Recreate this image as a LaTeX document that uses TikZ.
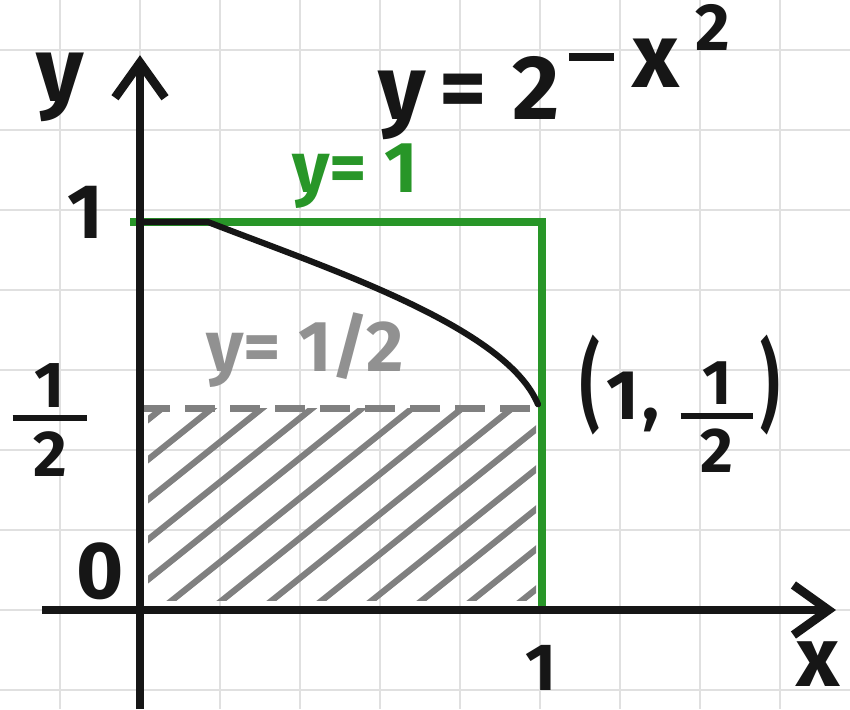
\documentclass[tikz,border=0pt]{standalone}
\usepackage{fontspec}
\usepackage{graphicx}
\setmainfont{Fira Sans}
\usetikzlibrary{arrows.meta,positioning}
\definecolor{gridGray}{RGB}{224,224,224}
\definecolor{inkBlack}{RGB}{22,22,22}
\definecolor{boxGreen}{RGB}{40,150,40}
\definecolor{hatchGray}{RGB}{128,128,128}
\definecolor{labelGray}{RGB}{145,145,145}
\newcommand{\hfrac}[2]{$\vcenter{\offinterlineskip\halign{\hfil##\hfil\cr #1\cr\noalign{\kern0.12em}\vrule width 1.15em height 0.1em\cr\noalign{\kern0.16em}#2\cr}}$}
\newcommand{\tallparen}[1]{\scalebox{0.85}[1.4]{#1}}
\newcommand{\handminus}{\rule[0.28em]{0.5em}{0.09em}}
\tikzset{
  gridline/.style={draw=gridGray, line width=1.2pt},
  axisline/.style={draw=inkBlack, line width=5pt, -{Straight Barb[length=0.7cm, width=1.0cm]}},
  greenline/.style={draw=boxGreen, line width=4.5pt},
  curveline/.style={draw=inkBlack, line width=3.5pt},
  hatchline/.style={draw=hatchGray, line width=3.5pt, line cap=round},
  halfline/.style={draw=hatchGray, line width=4pt, dash pattern=on 0.6cm off 0.3cm},
  lbl/.style={inner sep=0pt, text=inkBlack, font=\fontsize{44}{48}\selectfont\bfseries},
  greenlbl/.style={lbl, text=boxGreen, font=\fontsize{41}{44}\selectfont\bfseries},
  graylbl/.style={lbl, text=labelGray, font=\fontsize{41}{44}\selectfont\bfseries}
}
\begin{document}
\begin{tikzpicture}[x=8cm, y=7.76cm]
  \useasboundingbox (-0.35,-0.2552) rectangle (1.775,1.5722);
  \fill[white] (-0.35,-0.2552) rectangle (1.775,1.5722);
  \draw[gridline] (-0.35,-0.2552) grid[xstep=0.2, ystep=0.20619] (1.775,1.5722);

  \coordinate (O) at (0,0);
  \coordinate (xbeg) at (-0.245,0);
  \coordinate (xend) at (1.74,0);
  \coordinate (ybeg) at (0,-0.2552);
  \coordinate (yend) at (0,1.43);
  \coordinate (topleft) at (-0.025,1);
  \coordinate (topright) at (1.005,1);
  \coordinate (botright) at (1.005,0);
  \coordinate (halfleft) at (0,0.52);
  \coordinate (halfright) at (1,0.52);
  \coordinate (bend) at (0.17,1);
  \coordinate (meet) at (0.995,0.53);

  % shaded part under y=1/2
  \begin{scope}
    \clip (0.02,0.025) rectangle (0.99,0.52);
    \foreach \s in {-0.575,-0.45,...,0.93}
      \draw[hatchline] (\s,0) -- ++(1,0.8247);
  \end{scope}
  \draw[halfline] (halfleft) -- (halfright);

  \draw[greenline] (topleft) -- (topright) -- (botright);
  \draw[curveline, line cap=round] (0,1) -- (bend) .. controls (0.47,0.88) and (0.915,0.73) .. (meet);

  \draw[axisline] (xbeg) -- (xend);
  \draw[axisline] (ybeg) -- (yend);

  \node[lbl, font=\fontsize{52}{56}\selectfont\bfseries] (ylab) at (-0.2,1.348) {y};
  \node[lbl, font=\fontsize{48}{52}\selectfont\bfseries] (xlab) at (1.695,-0.14) {x};
  \node[lbl] (one) at (-0.1375,1.025) {1};
  \node[lbl, font=\fontsize{37}{40}\selectfont\bfseries] (half) at (-0.225,0.49) {\hfrac{1}{2}};
  \node[lbl, font=\fontsize{46}{50}\selectfont\bfseries] (zero) at (-0.1,0.1) {0};
  \node[lbl, font=\fontsize{38}{42}\selectfont\bfseries] (xone) at (1.0025,-0.148) {1};
  \node[lbl, anchor=base west, font=\fontsize{52}{56}\selectfont\bfseries] (eqn) at (0.595,1.263)
    {y\kern0.15em=\kern0.28em2\kern0.1em\raisebox{0.36em}{\handminus\kern0.2em x\kern0.18em\raisebox{0.4em}{\fontsize{38}{40}\selectfont 2}}};
  \node[greenlbl] (yone) at (0.5375,1.118) {y= 1};
  \node[graylbl] (yhalf) at (0.4125,0.67) {y= 1/2};
  \node[lbl, anchor=base, font=\fontsize{40}{44}\selectfont\bfseries] (point) at (1.35,0.49)
    {\tallparen{(}\kern0.1em1\kern0.05em,\kern0.3em\raisebox{-0.12em}{\fontsize{36}{40}\selectfont\hfrac{1}{2}}\kern0.1em\tallparen{)}};
\end{tikzpicture}
\end{document}
